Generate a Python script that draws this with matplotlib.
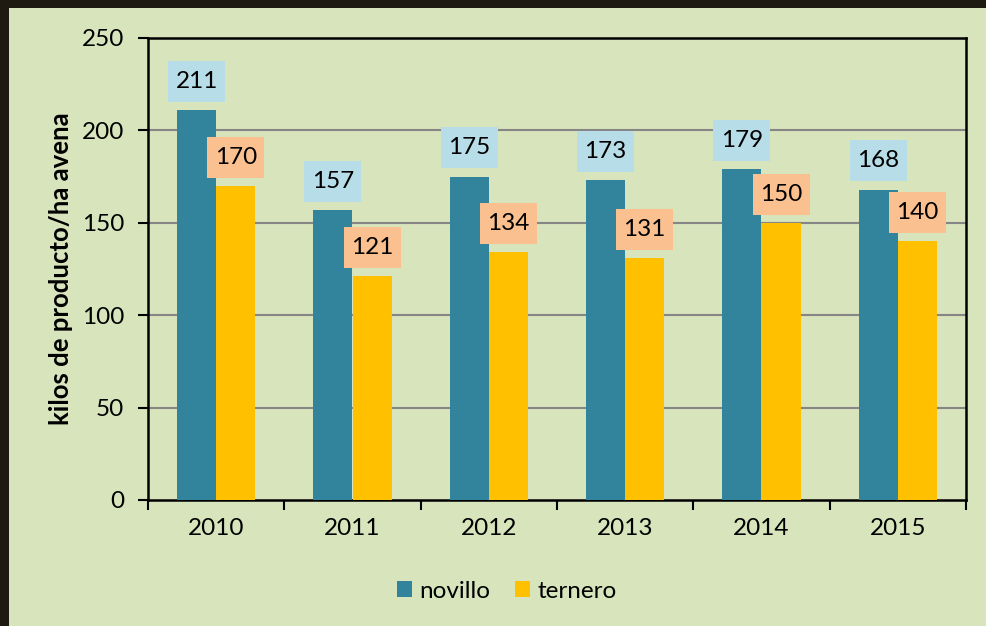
import matplotlib
matplotlib.use("Agg")
import matplotlib.pyplot as plt
import matplotlib.transforms as mtransforms
import numpy as np
from matplotlib.patches import Rectangle, Patch

years = ["2010", "2011", "2012", "2013", "2014", "2015"]
novillo = [211, 157, 175, 173, 179, 168]
ternero = [170, 121, 134, 131, 150, 140]
yticks = [0, 50, 100, 150, 200, 250]

plt.rcParams['font.family'] = ['Lato', 'DejaVu Sans']

W, H = 986, 626
DPI = 100
fig = plt.figure(figsize=(W / DPI, H / DPI), dpi=DPI)
bg = "#d8e4bc"
fig.patch.set_facecolor(bg)
border = "#1e1a12"
fig.patches.append(Rectangle((0, 1 - 7.5 / H), 1, 7.5 / H, transform=fig.transFigure,
                             facecolor=border, edgecolor='none', zorder=10))
fig.patches.append(Rectangle((0, 0), 8.5 / W, 1, transform=fig.transFigure,
                             facecolor=border, edgecolor='none', zorder=10))

ax = fig.add_axes([148 / W, 1 - 500 / H, (966 - 148) / W, (500 - 38) / H])
ax.set_facecolor(bg)

x = np.arange(len(years))
bw = 0.287
c_nov = "#31849b"
c_ter = "#ffc000"
fs = 17.5
ax.bar(x - bw / 2, novillo, bw, color=c_nov, zorder=3, label="novillo")
ax.bar(x + bw / 2, ternero, bw, color=c_ter, zorder=3, label="ternero")

ax.set_xlim(-0.5, len(years) - 0.5)
ax.set_ylim(0, 250)

BOX_W, BOX_H, OFF = 57, 41, 28.7  # pixels


def label(xv, yv, txt, fc, z):
    tr = mtransforms.Affine2D().scale(DPI / 72.0) + mtransforms.ScaledTranslation(xv, yv, ax.transData)
    off_pt = OFF * 72.0 / DPI
    ax.add_patch(Rectangle((-BOX_W / 2 * 72.0 / DPI, off_pt - BOX_H / 2 * 72.0 / DPI),
                           BOX_W * 72.0 / DPI, BOX_H * 72.0 / DPI,
                           transform=tr, facecolor=fc, edgecolor='none', zorder=z, clip_on=False))
    ax.annotate(txt, (xv, yv), xytext=(0, off_pt), textcoords='offset points',
                ha='center', va='center', fontsize=fs, color='black', zorder=z + 0.5)


for i in range(len(years)):
    label(x[i] - bw / 2, novillo[i], str(novillo[i]), '#b7dde8', 5)
    label(x[i] + bw / 2, ternero[i], str(ternero[i]), '#fac090', 6)

ax.set_yticks(yticks)
ax.set_yticklabels([str(v) for v in yticks], fontsize=fs)
ax.set_xticks(np.arange(len(years) + 1) - 0.5)
ax.set_xticklabels([])
ax.set_xticks(x, minor=True)
ax.set_xticklabels(years, minor=True, fontsize=fs)
ax.tick_params(axis='x', which='major', direction='out', length=7, width=1.5)
ax.tick_params(axis='x', which='minor', length=0, pad=13)
ax.tick_params(axis='y', direction='out', length=7, width=1.5, pad=10)

for v in yticks[1:-1]:
    ax.axhline(v, color='#868686', lw=1.5, zorder=1)

for s in ax.spines.values():
    s.set_linewidth(1.8)
    s.set_color('black')

ax.set_ylabel("kilos de producto/ha avena", fontsize=18.5, fontweight='bold')
ax.yaxis.set_label_coords((61 - 148) / (966 - 148), 0.5)
ax.yaxis.label.set_va('center')

handles = [Patch(facecolor=c_nov, edgecolor='none'), Patch(facecolor=c_ter, edgecolor='none')]
fig.legend(handles, ["novillo", "ternero"], loc='center', bbox_to_anchor=(507 / W, 1 - 591 / H),
           ncol=2, frameon=False, fontsize=fs, handlelength=0.62, handleheight=0.62,
           handletextpad=0.3, columnspacing=1.0)

fig.savefig("out.png", dpi=DPI, facecolor=fig.get_facecolor())
